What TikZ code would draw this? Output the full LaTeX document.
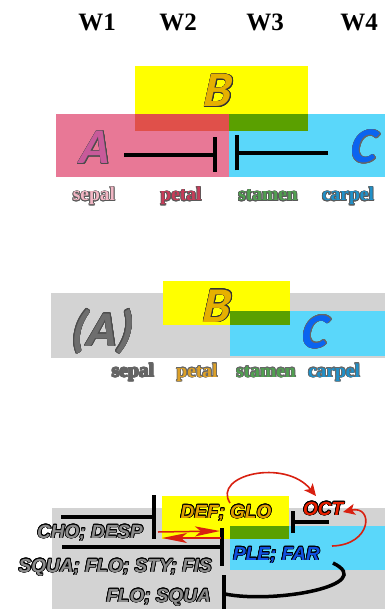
\documentclass[tikz,border=0pt]{standalone}
\usepackage{fontspec}
\setmainfont{Liberation Serif}
\newfontfamily\calib[FakeSlant=0.22]{Carlito}
\newfontfamily\genef{Liberation Sans}
\usepackage[copies]{contour}
\usetikzlibrary{arrows.meta}
\definecolor{cyel}{HTML}{FFFF00}
\definecolor{cpink}{HTML}{E87896}
\definecolor{ccyan}{HTML}{5AD7FA}
\definecolor{cred}{HTML}{E0504A}
\definecolor{cgreen}{HTML}{5AA000}
\definecolor{cgray}{HTML}{D3D3D3}
\definecolor{lpink}{HTML}{C85A9A}
\definecolor{lgold}{HTML}{E6B000}
\definecolor{lblue}{HTML}{0A64F0}
\definecolor{lgray}{HTML}{6E6E6E}
\definecolor{osepal}{HTML}{F2B6C4}
\definecolor{opetal}{HTML}{C83C5A}
\definecolor{ostamen}{HTML}{50A050}
\definecolor{ocarpel}{HTML}{2090C8}
\definecolor{osepalb}{HTML}{646464}
\definecolor{opetalb}{HTML}{DCA028}
\definecolor{ggray}{HTML}{8C8C8C}
\definecolor{ggold}{HTML}{E0A000}
\definecolor{gred}{HTML}{E82000}
\definecolor{gblue}{HTML}{1050E0}
\definecolor{carr}{HTML}{D82010}
\newcommand\olt[3]{\contourlength{#1}\contour{#2}{#3}}
\begin{document}
\begin{tikzpicture}[x=1pt,y=-1pt,
  wlab/.style={font=\fontsize{25}{25}\selectfont\bfseries, inner sep=0},
  letter/.style={font=\calib\fontsize{50}{50}\selectfont\bfseries, inner sep=0, anchor=base},
  organ/.style={font=\fontsize{19.5}{20}\selectfont\bfseries, inner sep=0, anchor=base},
  gene/.style={font=\genef\fontsize{19}{19}\selectfont\bfseries\itshape, inner sep=0},
  inh/.style={line width=4pt, -{Bar[width=#1]}},
  inh/.default=35pt,
  redarr/.style={draw=carr, line width=1.6pt, -{Stealth[length=12pt,width=11pt,inset=3pt]}},
  redarrb/.style={draw=carr, line width=1.5pt, -{Stealth[length=25pt,width=10pt,inset=6pt]}}]
\useasboundingbox (0,0) rectangle (385,609);
% ---------- header
\node[wlab] (w1) at (97,22) {W1};
\node[wlab] (w2) at (178,22) {W2};
\node[wlab] (w3) at (265,22) {W3};
\node[wlab] (w4) at (359,22) {W4};
% ---------- section 1
\fill[cpink] (56,114) rectangle (229,177);
\fill[ccyan] (229,114) rectangle (385,177);
\fill[cyel] (135,66) rectangle (308,114);
\fill[cred] (135,114) rectangle (229,131);
\fill[cgreen] (229,114) rectangle (308,131);
\node[letter,text=lpink] (A1) at (93,164) {\olt{0.6pt}{black!70}{A}};
\node[letter,text=lgold] (B1) at (216,107) {\olt{0.6pt}{black!80}{B}};
\node[letter,text=lblue] (C1) at (362,163) {\olt{0.6pt}{black!60}{C}};
\coordinate (a1s) at (124,155);
\coordinate (a1e) at (217,155);
\coordinate (c1s) at (328,153);
\coordinate (c1e) at (235,153);
\draw[inh] (a1s) -- (a1e);
\draw[inh] (c1s) -- (c1e);
\node[organ,text=osepal] (s1) at (94,201) {\olt{0.7pt}{black!65}{sepal}};
\node[organ,text=opetal] (p1) at (181,201) {\olt{0.7pt}{black!65}{petal}};
\node[organ,text=ostamen] (st1) at (268,201) {\olt{0.7pt}{black!65}{stamen}};
\node[organ,text=ocarpel] (ca1) at (348,201) {\olt{0.7pt}{black!65}{carpel}};
% ---------- section 2
\fill[cgray] (51,293) rectangle (385,358);
\fill[cyel] (163,281) rectangle (290,325);
\fill[ccyan] (230,311) rectangle (385,356);
\fill[cgreen] (230,311) rectangle (290,325);
\node[letter,text=lgray] (A2) at (100,346) {\olt{0.6pt}{black!70}{(A)}};
\node[letter,text=lgold] (B2) at (215,322) {\olt{0.6pt}{black!80}{B}};
\node[letter,text=lblue] (C2) at (313,348) {\olt{0.6pt}{black!60}{C}};
\node[organ,text=osepalb] (s2) at (133,377) {\olt{0.7pt}{black!60}{sepal}};
\node[organ,text=opetalb] (p2) at (197,377) {\olt{0.7pt}{black!60}{petal}};
\node[organ,text=ostamen] (st2) at (266,377) {\olt{0.7pt}{black!60}{stamen}};
\node[organ,text=ocarpel] (ca2) at (334,377) {\olt{0.7pt}{black!60}{carpel}};
% ---------- section 3
\fill[cgray] (52,508) rectangle (385,609);
\fill[cyel] (162,496) rectangle (289,539);
\fill[ccyan] (230,526) rectangle (385,570);
\fill[cgreen] (230,526) rectangle (289,539);
\node[gene,text=ggold,anchor=base] (def) at (226,518) {\olt{0.7pt}{black}{DEF; GLO}};
\node[gene,text=gred,anchor=base west] (oct) at (303,515) {\olt{0.7pt}{black}{OCT}};
\node[gene,text=ggray,anchor=base east] (cho) at (143,538) {\olt{0.7pt}{black}{CHO; DESP}};
\node[gene,text=ggray,anchor=base east] (squa) at (212,572) {\olt{0.7pt}{black}{SQUA; FLO; STY; FIS}};
\node[gene,text=ggray,anchor=base east] (flo) at (211,602) {\olt{0.7pt}{black}{FLO; SQUA}};
\node[gene,text=gblue,anchor=base west] (ple) at (233,560) {\olt{0.7pt}{black}{PLE; FAR}};
% black inhibitions
\coordinate (chos) at (61,517);
\coordinate (choe) at (156,517);
\coordinate (squs) at (62,547);
\coordinate (sque) at (224,547);
\coordinate (octs) at (329,522);
\coordinate (octe) at (291,522);
\draw[inh=44pt] (chos) -- (choe);
\draw[inh=38pt] (squs) -- (sque);
\draw[inh=22pt] (octs) -- (octe);
\coordinate (fbt) at (224,575);
\coordinate (fbb) at (224,614);
\coordinate (fcs) at (333,563);
\coordinate (fce) at (225,594);
\draw[line width=4pt] (fbt) -- (fbb);
\draw[line width=3.5pt] (fcs) .. controls (378,585) and (275,604) .. (fce);
% red arrows
\coordinate (r1s) at (230,503);
\coordinate (r1e) at (316,496);
\draw[redarr] (r1s) .. controls (212,475) and (285,458) .. (r1e);
\coordinate (r2s) at (332,546);
\coordinate (r2e) at (343,512);
\draw[redarr] (r2s) .. controls (372,545) and (374,505) .. (r2e);
\coordinate (r3s) at (158,532);
\coordinate (r3e) at (220,531);
\coordinate (r4s) at (221,538);
\coordinate (r4e) at (162,538);
\draw[redarrb] (r3s) -- (r3e);
\draw[redarrb] (r4s) -- (r4e);
\end{tikzpicture}
\end{document}
